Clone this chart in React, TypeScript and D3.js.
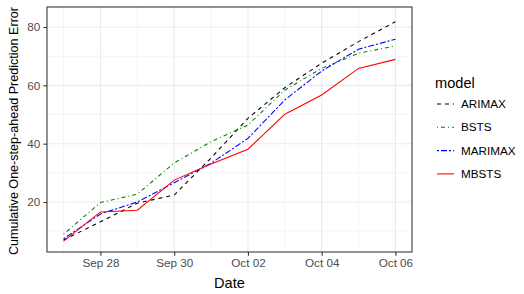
import * as d3 from 'd3'
import { useEffect, useRef } from 'react';

// data
const dates = ['2018-09-27', '2018-09-28', '2018-09-29', '2018-09-30', '2018-10-01',
  '2018-10-02', '2018-10-03', '2018-10-04', '2018-10-05', '2018-10-06'];
const arimax = [7.0, 13.2, 19.6, 22.4, 35.1, 48.7, 59.2, 67.6, 75.0, 81.8];
const bsts = [9.0, 19.8, 22.7, 33.4, 40.7, 46.4, 58.4, 65.8, 71.0, 73.5];
const marimax = [7.4, 15.9, 20.0, 26.6, 33.3, 41.8, 55.0, 64.9, 72.4, 75.8];
const mbsts = [6.6, 16.6, 17.2, 27.5, 33.0, 38.1, 50.1, 56.7, 65.8, 68.9];
const models = ['ARIMAX', 'BSTS', 'MARIMAX', 'MBSTS'];
const yTicks = [20, 40, 60, 80];
const yMinor = [10, 30, 50, 70];
const xTicks = ['2018-09-28', '2018-09-30', '2018-10-02', '2018-10-04', '2018-10-06'];
const xMinor = ['2018-09-27', '2018-09-29', '2018-10-01', '2018-10-03', '2018-10-05'];

const App = () => {
  const svgRef = useRef(null);

  useEffect(() => {
    const width = 524;
    const height = 294;
    const margin = { top: 7, right: 112, bottom: 42, left: 47 };
    const parse = d3.timeParse('%Y-%m-%d');
    const x0 = parse(dates[0]);
    const x1 = parse(dates[dates.length - 1]);
    const pad = 0.45 * 864e5;

    const x = d3.scaleTime()
      .domain([new Date(+x0 - pad), new Date(+x1 + pad)])
      .range([margin.left, width - margin.right]);
    const y = d3.scaleLinear()
      .domain([2.86, 86.86])
      .range([height - margin.bottom, margin.top]);

    const svg = d3.select(svgRef.current);
    svg.selectAll('*').remove();

    const font = 'Liberation Sans, Arial, sans-serif';
    const grid = svg.append('g');
    grid.selectAll('.ymin').data(yMinor).join('line')
      .attr('x1', margin.left).attr('x2', width - margin.right)
      .attr('y1', d => y(d)).attr('y2', d => y(d))
      .attr('stroke', '#ebebeb').attr('stroke-width', 0.55);
    grid.selectAll('.xmin').data(xMinor).join('line')
      .attr('x1', d => x(parse(d))).attr('x2', d => x(parse(d)))
      .attr('y1', margin.top).attr('y2', height - margin.bottom)
      .attr('stroke', '#ebebeb').attr('stroke-width', 0.55);
    grid.selectAll('.ymaj').data(yTicks).join('line')
      .attr('x1', margin.left).attr('x2', width - margin.right)
      .attr('y1', d => y(d)).attr('y2', d => y(d))
      .attr('stroke', '#ebebeb').attr('stroke-width', 1.1);
    grid.selectAll('.xmaj').data(xTicks).join('line')
      .attr('x1', d => x(parse(d))).attr('x2', d => x(parse(d)))
      .attr('y1', margin.top).attr('y2', height - margin.bottom)
      .attr('stroke', '#ebebeb').attr('stroke-width', 1.1);

    const series = [
      { name: 'ARIMAX', values: arimax, color: 'black', dash: '4,4' },
      { name: 'BSTS', values: bsts, color: 'green', dash: '1,3,4,3' },
      { name: 'MARIMAX', values: marimax, color: 'blue', dash: '2,2,6,2' },
      { name: 'MBSTS', values: mbsts, color: 'red', dash: null },
    ];

    const line = d3.line()
      .x((d, i) => x(parse(dates[i])))
      .y(d => y(d));

    svg.append('g').selectAll('path').data(series).join('path')
      .attr('d', d => line(d.values))
      .attr('fill', 'none')
      .attr('stroke', d => d.color)
      .attr('stroke-width', 1.07)
      .attr('stroke-dasharray', d => d.dash);

    // panel border
    svg.append('rect')
      .attr('x', margin.left).attr('y', margin.top)
      .attr('width', width - margin.right - margin.left)
      .attr('height', height - margin.bottom - margin.top)
      .attr('fill', 'none').attr('stroke', '#333333').attr('stroke-width', 1.07);

    // Draw x-axis
    const xAxis = svg.append('g')
      .attr('transform', `translate(0, ${height - margin.bottom})`)
      .call(d3.axisBottom(x).tickValues(xTicks.map(parse))
        .tickFormat(d3.timeFormat('%b %d')).tickSizeOuter(0).tickSize(3.7).tickPadding(3));
    xAxis.select('.domain').remove();
    xAxis.selectAll('line').attr('stroke', '#333333').attr('stroke-width', 1.07);
    xAxis.selectAll('text').attr('fill', '#4d4d4d').attr('font-size', 11.7).attr('font-family', font);

    // Draw y-axis
    const yAxis = svg.append('g')
      .attr('transform', `translate(${margin.left}, 0)`)
      .call(d3.axisLeft(y).tickValues(yTicks).tickSizeOuter(0).tickSize(3.7).tickPadding(3));
    yAxis.select('.domain').remove();
    yAxis.selectAll('line').attr('stroke', '#333333').attr('stroke-width', 1.07);
    yAxis.selectAll('text').attr('fill', '#4d4d4d').attr('font-size', 11.7).attr('font-family', font);

    // axis titles
    svg.append('text')
      .attr('x', (margin.left + width - margin.right) / 2).attr('y', 288)
      .attr('text-anchor', 'middle').attr('font-size', 14.6).attr('font-family', font)
      .text('Date');
    svg.append('text')
      .attr('transform', `translate(18, 131) rotate(-90)`)
      .attr('text-anchor', 'middle').attr('font-size', 12.6).attr('font-family', font)
      .attr('textLength', 248).attr('lengthAdjust', 'spacingAndGlyphs')
      .text('Cumulative One-step-ahead Prediction Error');

    // legend
    const legend = svg.append('g');
    legend.append('text')
      .attr('x', 435).attr('y', 88).attr('font-size', 14.6).attr('font-family', font)
      .text('model');
    const key = legend.selectAll('.key').data(series).join('g')
      .attr('transform', (d, i) => `translate(437, ${104 + i * 23.3})`);
    key.append('line')
      .attr('x1', 0).attr('x2', 17).attr('y1', 0).attr('y2', 0)
      .attr('stroke', d => d.color).attr('stroke-width', 1.07)
      .attr('stroke-dasharray', d => d.dash);
    key.append('text')
      .attr('x', 24).attr('y', 4).attr('font-size', 11.7).attr('font-family', font)
      .text((d, i) => models[i]);
  }, []);

  return (
    <svg ref={svgRef} width={524} height={294}
      style={{ position: 'absolute', left: 0, top: 0, background: 'white' }} />
  );
};

export default App;
